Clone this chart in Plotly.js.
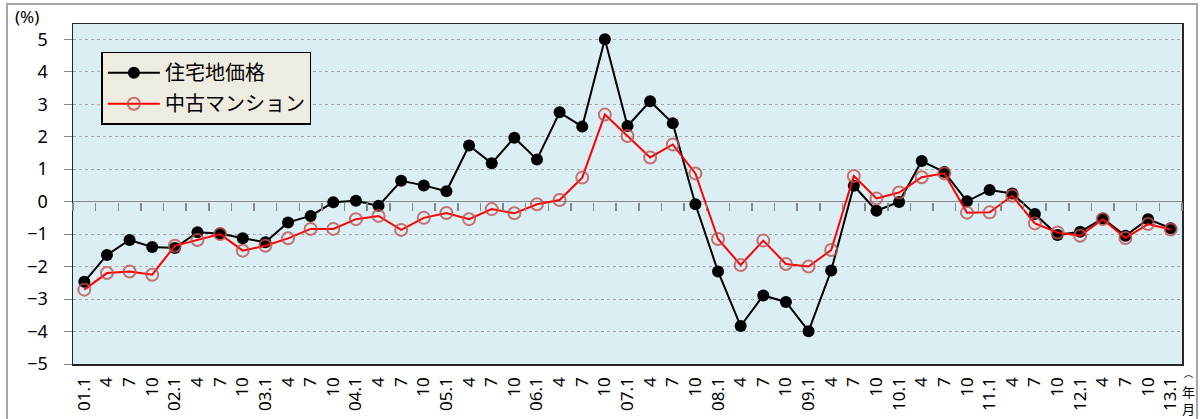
<!DOCTYPE html>
<html>
<head>
<meta charset="utf-8">
<script src="https://cdn.plot.ly/plotly-3.0.1.min.js"></script>
<style>
html,body{margin:0;padding:0;background:#fff;}
#chart{width:1202px;height:419px;}
</style>
</head>
<body>
<div id="chart"></div>
<script>
// quarterly periods 2001.1 - 2013.1
const tickLabels = ["01.1","4","7","10","02.1","4","7","10","03.1","4","7","10","04.1","4","7","10","05.1","4","7","10","06.1","4","7","10","07.1","4","7","10","08.1","4","7","10","09.1","4","7","10","10.1","4","7","10","11.1","4","7","10","12.1","4","7","10","13.1"];
const landPrice = [-2.47,-1.64,-1.18,-1.40,-1.43,-0.94,-0.98,-1.13,-1.25,-0.64,-0.44,-0.02,0.03,-0.13,0.64,0.50,0.32,1.73,1.18,1.97,1.30,2.75,2.31,5.00,2.33,3.09,2.41,-0.08,-2.15,-3.83,-2.89,-3.09,-3.99,-2.12,0.49,-0.28,-0.01,1.25,0.91,0.01,0.36,0.25,-0.38,-1.03,-0.93,-0.52,-1.05,-0.54,-0.82];
const condoPrice = [-2.71,-2.20,-2.15,-2.25,-1.36,-1.18,-1.00,-1.51,-1.36,-1.13,-0.84,-0.84,-0.54,-0.44,-0.87,-0.50,-0.35,-0.54,-0.23,-0.36,-0.08,0.05,0.74,2.68,2.02,1.36,1.76,0.87,-1.15,-1.95,-1.20,-1.92,-2.00,-1.49,0.79,0.10,0.28,0.75,0.87,-0.34,-0.33,0.18,-0.67,-0.95,-1.05,-0.54,-1.12,-0.69,-0.86];
const seriesNames = ["住宅地価格","中古マンション"];
const yTicks = [-5,-4,-3,-2,-1,0,1,2,3,4,5];

const idx = tickLabels.map((_, i) => i);
const bounds = tickLabels.map((_, i) => i - 0.5).concat([tickLabels.length - 0.5]);
const xRange = [-0.5, tickLabels.length - 0.5];
const yRange = [-5, 5.47];
const zeroPos = (0 - yRange[0]) / (yRange[1] - yRange[0]);

const numFont = "Noto Sans, DejaVu Sans, sans-serif";
const jpFont = "Noto Sans CJK JP, sans-serif";

const traces = [
  {
    x: idx, y: landPrice, name: seriesNames[0], legendgroup: "a", type: "scatter", mode: "lines+markers",
    line: {color: "#000000", width: 2},
    marker: {color: "#000000", size: 12, symbol: "circle"},
    hoverinfo: "skip"
  },
  {
    x: idx, y: condoPrice, name: seriesNames[1], legendgroup: "b", type: "scatter", mode: "lines+markers",
    line: {color: "#FF0000", width: 2},
    marker: {color: "rgba(192,80,77,0.8)", size: 12, symbol: "circle-open", line: {width: 2}},
    hoverinfo: "skip"
  },
  {
    x: idx, y: landPrice, xaxis: "x2", yaxis: "y", type: "scatter", mode: "lines",
    line: {width: 0}, opacity: 0, showlegend: false, hoverinfo: "skip"
  }
];

const layout = {
  width: 1202, height: 419,
  margin: {l: 73, r: 20, t: 24, b: 55},
  paper_bgcolor: "#ffffff",
  plot_bgcolor: "#DBEEF3",
  showlegend: true,
  legend: {
    x: 0.0256, y: 0.9186, xanchor: "left", yanchor: "top",
    bgcolor: "#EEECE1", bordercolor: "#000000", borderwidth: 1.5,
    font: {family: jpFont, size: 20, color: "#000"},
    tracegroupgap: 2, itemwidth: 52
  },
  xaxis: {
    range: xRange, tickmode: "array", tickvals: idx, ticktext: tickLabels,
    tickangle: -90, ticks: "", showgrid: false, zeroline: false,
    showline: true, linecolor: "#262626", linewidth: 1.5, mirror: true,
    tickfont: {family: numFont, size: 17, color: "#000"},
    ticklabelstandoff: 5
  },
  xaxis2: {
    overlaying: "x", anchor: "free", position: zeroPos, side: "bottom",
    range: xRange, tickmode: "array", tickvals: bounds, showticklabels: false,
    ticks: "outside", ticklen: 8, tickwidth: 1.5, tickcolor: "#868686",
    showgrid: false, zeroline: false, showline: false
  },
  yaxis: {
    range: yRange, tickmode: "array", tickvals: yTicks,
    ticks: "outside", ticklen: 8, tickwidth: 1, tickcolor: "#868686",
    showgrid: true, gridcolor: "#a8a8a8", griddash: "dot", gridwidth: 1,
    zeroline: true, zerolinecolor: "#868686", zerolinewidth: 1.5,
    showline: true, linecolor: "#262626", linewidth: 1.5, mirror: true,
    tickfont: {family: numFont, size: 18, color: "#000"},
    ticklabelstandoff: 12
  },
  shapes: [
    {type: "rect", xref: "paper", yref: "paper",
     x0: (7 - 73) / 1109, x1: (1197 - 73) / 1109,
     y0: -0.5, y1: (364.3 - 4) / 340.3,
     line: {color: "#A6A6A6", width: 2}, fillcolor: "rgba(0,0,0,0)", layer: "below"}
  ],
  annotations: [
    {text: "(%)", xref: "paper", yref: "paper", x: (27 - 73) / 1109, y: (364.3 - 16) / 340.3,
     xanchor: "center", yanchor: "middle", showarrow: false,
     font: {family: numFont, size: 17, color: "#000"}},
    {text: "︵", xref: "paper", yref: "paper", x: (1188 - 73) / 1109, y: (364.3 - 366) / 340.3,
     xanchor: "center", yanchor: "top", showarrow: false, borderpad: 0,
     font: {family: jpFont, size: 9, color: "#000"}},
    {text: "年<br>月", xref: "paper", yref: "paper", x: (1188 - 73) / 1109, y: (364.3 - 419) / 340.3,
     xanchor: "center", yanchor: "bottom", showarrow: false, borderpad: 0,
     font: {family: jpFont, size: 13, color: "#000"}}
  ]
};

Plotly.newPlot("chart", traces, layout, {staticPlot: true, displayModeBar: false});
</script>
</body>
</html>
